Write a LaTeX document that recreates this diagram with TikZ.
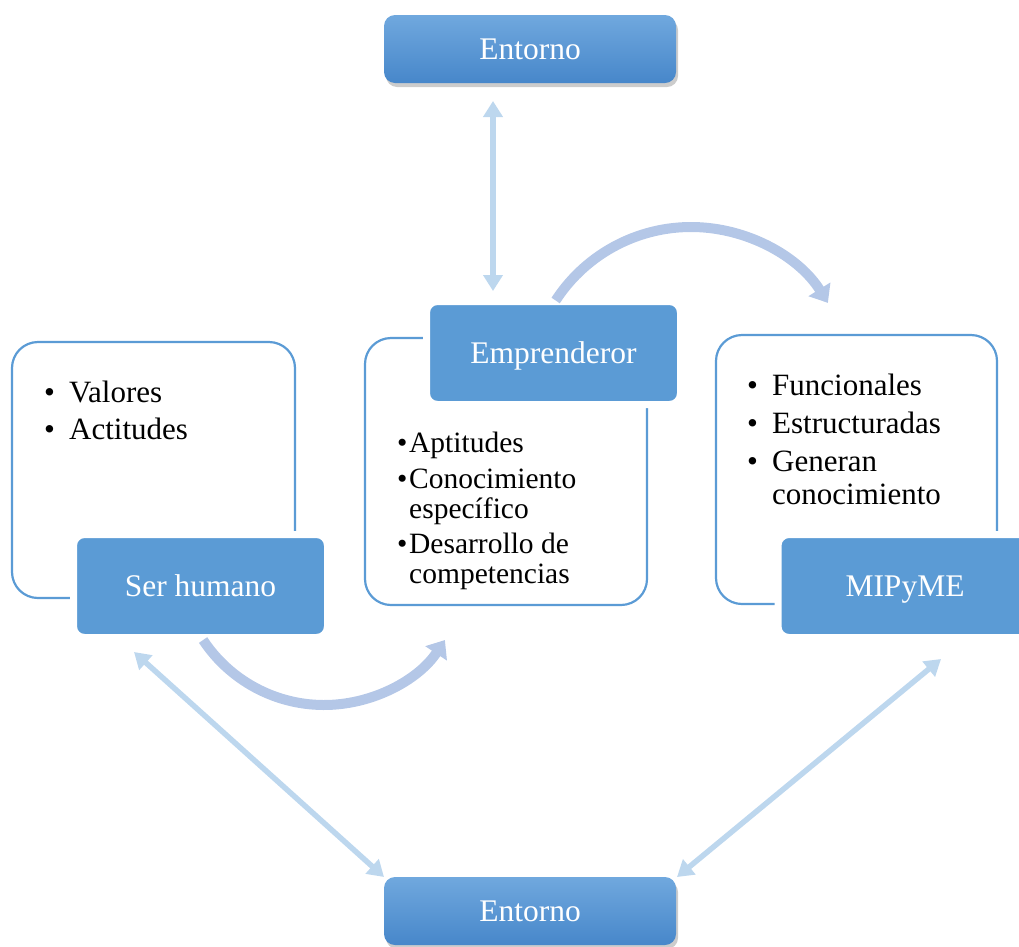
\documentclass[tikz,border=0pt]{standalone}
\usepackage{fontspec}
\setmainfont{Liberation Serif}
\usetikzlibrary{arrows.meta,shadows}
\definecolor{boxblue}{HTML}{5B9BD5}
\definecolor{gradtop}{HTML}{70A8DE}
\definecolor{gradbot}{HTML}{4787CA}
\definecolor{arrowlight}{HTML}{BDD7EE}
\definecolor{arcblue}{HTML}{B4C7E7}
\tikzset{
  outline/.style={draw=boxblue, line width=2.2pt, rounded corners=26pt, inner sep=0pt},
  titlebox/.style={fill=boxblue, draw=white, line width=7pt, rounded corners=11pt,
    inner sep=0pt, minimum width=254pt, minimum height=103pt,
    text height=21pt, text depth=0pt,
    text=white, font=\fontsize{31.5}{33}\selectfont},
  envbox/.style={rounded corners=11pt, top color=gradtop, bottom color=gradbot,
    inner sep=0pt, minimum width=292pt, minimum height=68pt,
    text=white, font=\fontsize{31.5}{33}\selectfont,
    drop shadow={shadow xshift=2pt, shadow yshift=-4pt, opacity=0.4}},
  listtext/.style={anchor=base west, inner sep=0pt, text=black},
  dblarrow/.style={draw=arrowlight, line width=5.5pt,
    arrows={Triangle[width=19pt,length=16pt]-Triangle[width=19pt,length=16pt]}},
  bigarc/.style={draw=arcblue, line width=10pt,
    arrows={-Triangle[width=25pt,length=16pt]}}
}
\begin{document}
\begin{tikzpicture}[x=1pt,y=1pt]
  \useasboundingbox (0,0) rectangle (1019,-946);
  \clip (0,0) rectangle (1019,-946);

  % environment boxes
  \node[envbox] (envTop) at (530,-49) {Entorno};
  \node[envbox] (envBot) at (530,-911) {Entorno};

  % outlined frames holding the bullet lists
  \node[outline, minimum width=283pt, minimum height=256pt] (humFrame) at (153.5,-470) {};
  \node[outline, minimum width=282pt, minimum height=267pt] (empFrame) at (506,-471.5) {};
  \node[outline, minimum width=281pt, minimum height=269pt] (pymeFrame) at (856.5,-469.5) {};

  % titled boxes
  \node[titlebox] (hum) at (200.5,-586) {Ser humano};
  \node[titlebox] (emp) at (553.5,-353) {Emprenderor};
  \node[titlebox] (pyme) at (905,-586) {MIPyME};

  % bullet lists
  \node[listtext, font=\fontsize{31}{33}\selectfont] (humList) at (44,-402)
    {\begin{tabular}[t]{@{}p{25pt}@{}l@{}}
      \textbullet & Valores\\[4pt]
      \textbullet & Actitudes
    \end{tabular}};
  \node[listtext, font=\fontsize{29.5}{30}\selectfont] (empList) at (397,-452)
    {\begin{tabular}[t]{@{}p{12pt}@{}l@{}}
      \textbullet & Aptitudes\\[6pt]
      \textbullet & Conocimiento\\
                  & específico\\[5pt]
      \textbullet & Desarrollo de\\
                  & competencias
    \end{tabular}};
  \node[listtext, font=\fontsize{31}{33}\selectfont] (pymeList) at (747,-395)
    {\begin{tabular}[t]{@{}p{25pt}@{}l@{}}
      \textbullet & Funcionales\\[5pt]
      \textbullet & Estructuradas\\[5pt]
      \textbullet & Generan\\
                  & conocimiento
    \end{tabular}};

  % connector end points
  \coordinate (topA) at (493,-101);
  \coordinate (topB) at (493,-291);
  \coordinate (leftA) at (134,-652);
  \coordinate (leftB) at (384,-877);
  \coordinate (rightA) at (941,-659);
  \coordinate (rightB) at (677,-877);
  \coordinate (arcTopC) at (691,-388.4);
  \coordinate (arcBotC) at (324,-560);

  % straight two-way links
  \draw[dblarrow] (topA) -- (topB);
  \draw[dblarrow] (leftA) -- (leftB);
  \draw[dblarrow] (rightA) -- (rightB);

  % curved flows
  \draw[bigarc] (arcTopC) ++(147:161.4) arc[start angle=147, end angle=32, radius=161.4];
  \draw[bigarc] (arcBotC) ++(213.5:145) arc[start angle=213.5, end angle=326.5, radius=145];
\end{tikzpicture}
\end{document}
